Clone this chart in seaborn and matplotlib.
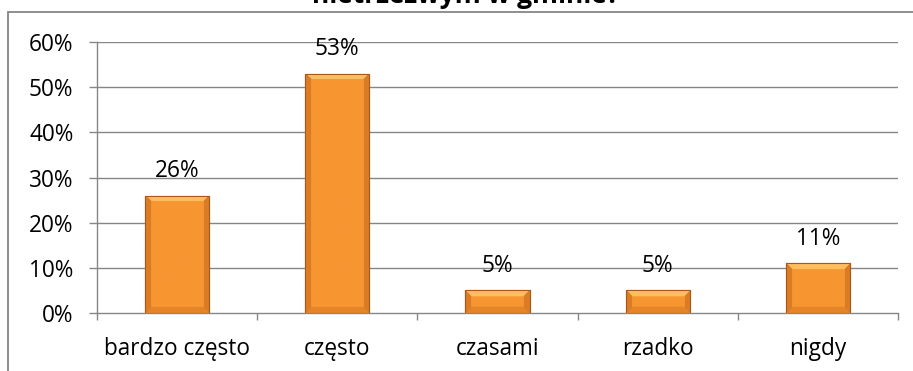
import numpy as np
import pandas as pd
import matplotlib
matplotlib.use("Agg")
import matplotlib.pyplot as plt
from matplotlib.patches import Rectangle
import seaborn as sns

categories = ["bardzo często", "często", "czasami", "rzadko", "nigdy"]
shares = [26, 53, 5, 5, 11]
y_ticks = [0, 10, 20, 30, 40, 50, 60]
title_tail = "nietrzeźwym w gminie?"

df = pd.DataFrame({"odpowiedz": categories, "udzial": shares})

sns.set_theme(style="white")
plt.rcParams["font.family"] = ["Open Sans", "DejaVu Sans"]

GRAY = "#868686"
ORANGE = "#F7962F"
EDGE = "#A9581A"
FS = 16.3

W, H = 913, 371
fig = plt.figure(figsize=(W / 100, H / 100), dpi=100)
ax = fig.add_axes([97 / W, 1 - 313 / H, (898 - 97) / W, (313 - 42) / H])

sns.barplot(data=df, x="odpowiedz", y="udzial", color=ORANGE, width=0.4,
            saturation=1, edgecolor=EDGE, linewidth=0.8, ax=ax, zorder=3)

ax.set_xlim(-0.5, len(categories) - 0.5)
ax.set_ylim(0, 60)
ax.set_yticks(y_ticks)
ax.set_yticklabels([f"{t}%" for t in y_ticks])
ax.set_xlabel("")
ax.set_ylabel("")

# gridlines
for t in y_ticks[1:]:
    ax.axhline(t, color=GRAY, lw=1.0, zorder=1)

for s in ["top", "right"]:
    ax.spines[s].set_visible(False)
for s in ["left", "bottom"]:
    ax.spines[s].set_color(GRAY)
    ax.spines[s].set_linewidth(1.0)

ax.tick_params(axis="y", which="major", direction="out", length=6, width=1,
               color=GRAY, labelsize=FS, labelcolor="black", pad=11, left=True)
ax.tick_params(axis="x", which="major", length=0, labelsize=FS,
               labelcolor="black", pad=17)
ax.set_xticks(np.arange(-0.5, len(categories)), minor=True)
ax.tick_params(axis="x", which="minor", direction="out", length=5, width=1,
               color=GRAY, bottom=True)

# bevelled fill for each bar
fig.canvas.draw()
for patch in ax.patches:
    bb = patch.get_window_extent()
    pw, ph = max(int(bb.width), 2), max(int(bb.height), 2)
    xs = np.arange(pw)[None, :]
    ys = np.arange(ph)[:, None]
    base = np.array([247, 150, 49], float) / 255
    light = np.array([253, 190, 95], float) / 255
    dark = np.array([200, 108, 30], float) / 255
    img = np.tile(base, (ph, pw, 1))
    b = 6
    side = np.minimum(xs, pw - 1 - xs)
    top = ys
    bottom = ph - 1 - ys
    m_side = np.broadcast_to((side < b) & (side <= top) & (side <= bottom), (ph, pw))
    img[m_side] = dark * 0.6 + base * 0.4
    m_top = np.broadcast_to((top < b) & (top < side), (ph, pw))
    img[m_top] = light
    m_bot = np.broadcast_to((bottom < b) & (bottom < side), (ph, pw)) & ~m_top
    img[m_bot] = dark * 0.4 + base * 0.6
    x0, y0 = patch.get_x(), patch.get_y()
    im = ax.imshow(img, extent=(x0, x0 + patch.get_width(), y0, y0 + patch.get_height()),
                   aspect="auto", zorder=3.5, interpolation="bilinear", origin="upper")
    im.set_clip_path(patch)
    outline = Rectangle((x0, y0), patch.get_width(), patch.get_height(),
                        fill=False, edgecolor=EDGE, lw=0.8, zorder=3.6)
    ax.add_patch(outline)

ax.set_xlim(-0.5, len(categories) - 0.5)
ax.set_ylim(0, 60)

for i, v in enumerate(shares):
    ax.annotate(f"{v}%", (i, v), xytext=(0, 9), textcoords="offset points",
                ha="center", va="bottom", fontsize=FS, color="black", zorder=5)

# chart frame
fig.patches.append(Rectangle((8 / W, -0.1), 1.2, 1 - 12 / H + 0.1,
                             transform=fig.transFigure, fill=False,
                             edgecolor=GRAY, lw=1.3))

fig.text(466 / W, 1 - 3 / H, title_tail, ha="center", va="baseline",
         fontsize=19, fontweight="bold", color="black")

fig.savefig("out.png", dpi=100)
